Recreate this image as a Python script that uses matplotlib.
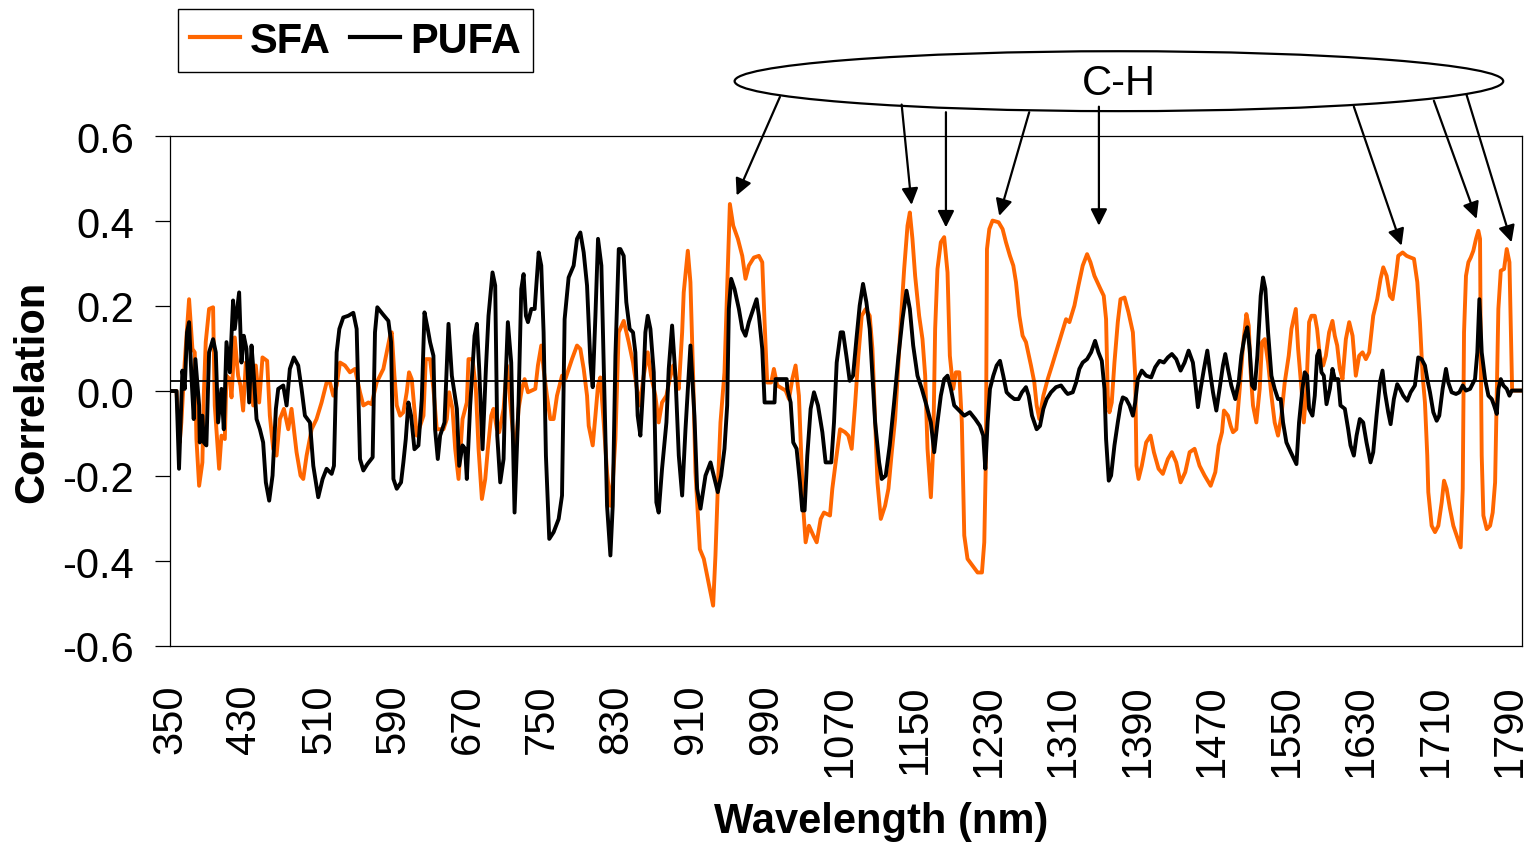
import numpy as np
import matplotlib
matplotlib.use("Agg")
import matplotlib.pyplot as plt
from matplotlib.patches import Ellipse
from matplotlib.ticker import FormatStrFormatter

plt.rcParams['font.family'] = ['Liberation Sans', 'DejaVu Sans']
plt.rcParams['axes.unicode_minus'] = False

# SFA correlation (orange)
sfa_nm = [350, 357, 360.4, 362.2, 365.8, 370.5, 374.1, 376.6, 378.4, 381.3, 384.8, 386.3, 388.4, 392.0, 396.3,
          398.1, 399.9, 402.8, 405.3, 408.9, 410.7, 414.3, 416.1, 419.6, 423.2, 425.7, 428.6, 431.5, 436.5, 439.4,
          442.2, 445.8, 449.4, 454.4, 457.3, 460.9, 464.5, 468.1, 472.4, 477.1, 480.6, 486.0, 490.3, 493.2, 496.8,
          502.2, 507.5, 512.9, 518.3, 521.9, 525.5, 529.1, 532.7, 538.0, 543.4, 548.8, 554.2, 557.8, 563.2, 566.7,
          572.1, 579.3, 586.5, 588.3, 591.2, 593.7, 597.3, 600.8, 604.4, 606.9, 609.8, 612.7, 615.2, 618.8, 622.4,
          624.9, 629.5, 633.1, 636.7, 643.9, 647.5, 650.0, 653.6, 656.5, 660.1, 664.4, 669.0, 670.8, 675.1, 678.7,
          681.6, 685.2, 688.8, 691.6, 695.2, 697.7, 701.3, 703.8, 708.5, 712.1, 715.7, 721.0, 724.6, 728.2, 731.1,
          734.7, 742.6, 745.4, 749.0, 751.5, 755.1, 758.7, 762.3, 765.9, 771.3, 774.9, 778.5, 782.0, 787.4, 791.0,
          794.6, 798.2, 800.0, 804.3, 807.2, 810.0, 812.5, 816.1, 819.7, 823.3, 825.8, 828.7, 832.2, 837.6, 843.0,
          847.6, 851.2, 854.8, 859.1, 863.4, 867.0, 871.6, 875.2, 878.8, 883.5, 887.1, 890.7, 894.3, 896.8, 900.4,
          902.1, 906.5, 909.3, 912.2, 914.7, 919.4, 923.7, 927.3, 930.9, 933.7, 936.2, 938.7, 941.6, 945.9, 948.8,
          951.7, 955.3, 960.3, 965.0, 968.5, 972.1, 977.5, 982.9, 986.5, 989.0, 991.8, 996.1, 999.0, 1002.6, 1011.6,
          1015.2, 1018.8, 1022.3, 1025.9, 1028.4, 1030.6, 1033.1, 1036.7, 1041.4, 1045.0, 1049.3, 1052.8, 1059.3,
          1061.8, 1065.4, 1070.1, 1075.5, 1079.0, 1082.6, 1086.2, 1089.8, 1093.4, 1097.7, 1102.0, 1104.9, 1107.8,
          1110.3, 1113.9, 1118.5, 1122.1, 1125.7, 1129.3, 1132.9, 1135.4, 1139.0, 1142.6, 1145.1, 1147.9, 1150.8,
          1155.1, 1158.7, 1161.6, 1164.1, 1167.7, 1170.2, 1172.3, 1174.8, 1178.4, 1182.0, 1185.6, 1188.1, 1191.7,
          1194.6, 1198.2, 1201.0, 1203.6, 1207.1, 1212.5, 1217.9, 1222.6, 1225.1, 1226.9, 1228.0, 1230.5, 1234.0,
          1240.5, 1244.8, 1248.4, 1252.7, 1256.3, 1259.2, 1262.8, 1266.3, 1269.9, 1275.3, 1278.9, 1281.4, 1284.3,
          1288.6, 1293.3, 1297.9, 1302.2, 1307.6, 1313.0, 1316.6, 1322.0, 1326.3, 1330.9, 1335.6, 1339.2, 1343.5,
          1350.0, 1353.5, 1356.0, 1357.8, 1359.6, 1362.1, 1365.0, 1368.6, 1371.5, 1375.8, 1380.1, 1384.8, 1387.3,
          1388.7, 1390.9, 1394.4, 1399.1, 1403.8, 1407.4, 1412.4, 1417.0, 1422.4, 1426.7, 1431.4, 1436.1, 1441.1,
          1445.8, 1451.1, 1456.5, 1461.9, 1468.4, 1473.4, 1477.0, 1480.6, 1482.7, 1487.0, 1489.9, 1492.4, 1496.0,
          1499.6, 1503.2, 1506.8, 1509.3, 1511.4, 1513.9, 1517.5, 1521.1, 1523.6, 1526.5, 1530.1, 1533.7, 1537.2,
          1540.8, 1544.4, 1548.0, 1552.3, 1555.2, 1559.9, 1562.4, 1566.0, 1568.5, 1571.3, 1574.2, 1576.7, 1580.3,
          1582.8, 1585.7, 1589.3, 1592.2, 1595.7, 1599.3, 1601.8, 1604.4, 1607.2, 1610.1, 1613.7, 1617.3, 1620.9,
          1624.4, 1628.0, 1631.6, 1635.2, 1638.8, 1643.1, 1647.4, 1651.0, 1653.9, 1657.5, 1661.0, 1663.9, 1667.5,
          1670.0, 1674.7, 1679.0, 1683.3, 1686.9, 1690.5, 1693.3, 1696.2, 1698.7, 1701.2, 1702.3, 1705.9, 1709.5,
          1713.1, 1716.7, 1719.2, 1722.0, 1725.6, 1729.2, 1732.8, 1737.1, 1739.3, 1740.7, 1742.8, 1745.4, 1747.9,
          1750.7, 1753.6, 1756.1, 1757.9, 1758.6, 1759.7, 1761.5, 1765.1, 1768.7, 1771.5, 1774.1, 1775.9, 1777.6,
          1780.2, 1783.7, 1786.6, 1789.5, 1790.9, 1792.4, 1803]
sfa_r = [0.0, 0.0, -0.121, -0.074, 0.067, 0.216, 0.099, 0.091, -0.113, -0.223, -0.168, -0.011, 0.115, 0.193, 0.197,
         -0.034, -0.09, -0.183, -0.105, -0.113, 0.036, 0.028, -0.015, 0.126, 0.036, 0.013, -0.046, 0.067, 0.036, -0.034,
         0.060, -0.027, 0.079, 0.071, -0.058, -0.136, -0.152, -0.066, -0.042, -0.09, -0.042, -0.144, -0.199, -0.207, -0.152,
         -0.09, -0.066, -0.027, 0.020, 0.020, -0.011, 0.013, 0.067, 0.060, 0.044, 0.052, -0.003, -0.034, -0.027, -0.031,
         0.020, 0.052, 0.130, 0.138, 0.036, -0.034, -0.058, -0.050, -0.003, 0.044, 0.028, -0.042, -0.105, -0.082, -0.058,
         0.075, 0.075, 0.005, -0.09, -0.09, -0.066, -0.003, -0.042, -0.136, -0.207, -0.066, -0.027, 0.075, 0.075, 0.005,
         -0.136, -0.254, -0.207, -0.136, -0.058, -0.042, -0.09, -0.097, -0.042, 0.060, -0.027, -0.16, -0.042, 0.005, 0.028,
         -0.003, 0.005, 0.060, 0.107, 0.052, -0.011, -0.066, -0.066, -0.011, 0.036, 0.028, 0.052, 0.075, 0.107, 0.099,
         0.052, -0.011, -0.082, -0.128, -0.058, 0.013, 0.032, -0.074, -0.191, -0.27, -0.215, -0.113, 0.138, 0.165, 0.115,
         0.067, 0.013, -0.034, 0.036, 0.091, 0.036, -0.011, -0.074, -0.027, -0.011, 0.028, 0.060, 0.020, 0.005, 0.138,
         0.232, 0.330, 0.256, 0.036, -0.191, -0.372, -0.395, -0.435, -0.474, -0.505, -0.387, -0.23, -0.074, 0.044, 0.240,
         0.440, 0.389, 0.358, 0.318, 0.264, 0.295, 0.314, 0.318, 0.303, 0.162, 0.020, 0.020, 0.052, 0.013, 0.001,
         -0.019, 0.028, 0.060, -0.011, -0.152, -0.277, -0.356, -0.317, -0.340, -0.356, -0.301, -0.286, -0.293,
         -0.23, -0.168, -0.09, -0.097, -0.105, -0.136, -0.034, 0.083, 0.177, 0.193, 0.177, 0.099, -0.066,
         -0.215, -0.301, -0.270, -0.23, -0.144, -0.066, 0.067, 0.162, 0.287, 0.389, 0.420, 0.358, 0.271,
         0.177, 0.122, 0.036, -0.136, -0.25, -0.136, 0.146, 0.287, 0.350, 0.362, 0.279, 0.083, 0.005,
         0.044, 0.044, -0.074, -0.340, -0.395, -0.411, -0.427, -0.427, -0.356, -0.152, 0.334, 0.381, 0.401,
         0.397, 0.381, 0.350, 0.318, 0.295, 0.256, 0.177, 0.130, 0.115, 0.060, 0.020, -0.034, -0.066,
         -0.011, 0.028, 0.060, 0.091, 0.130, 0.169, 0.162, 0.201, 0.248, 0.295, 0.322, 0.303, 0.271,
         0.240, 0.224, 0.169, -0.011, -0.050, -0.027, 0.067, 0.162, 0.216, 0.220, 0.185, 0.138, 0.036,
         -0.176, -0.207, -0.176, -0.121, -0.105, -0.144, -0.183, -0.195, -0.16, -0.144, -0.168, -0.215, -0.191,
         -0.144, -0.136, -0.176, -0.199, -0.223, -0.191, -0.128, -0.097, -0.046, -0.058, -0.082, -0.097, -0.09,
         0.005, 0.107, 0.181, 0.154, 0.044, -0.034, -0.074, 0.005, 0.115, 0.122, 0.067, -0.011, -0.074,
         -0.105, -0.058, 0.020, 0.083, 0.146, 0.193, 0.099, 0.005, -0.074, 0.005, 0.162, 0.177, 0.177,
         0.146, 0.083, 0.060, 0.083, 0.138, 0.165, 0.130, 0.107, 0.052, 0.028, 0.122, 0.162, 0.130,
         0.036, 0.083, 0.091, 0.075, 0.091, 0.177, 0.216, 0.264, 0.291, 0.271, 0.224, 0.216, 0.271,
         0.318, 0.326, 0.318, 0.314, 0.311, 0.256, 0.162, 0.036, -0.027, -0.152, -0.238, -0.317, -0.332,
         -0.317, -0.262, -0.211, -0.23, -0.277, -0.317, -0.340, -0.368, -0.23, 0.138, 0.271, 0.303, 0.314,
         0.330, 0.358, 0.377, 0.358, 0.122, -0.152, -0.293, -0.325, -0.317, -0.286, -0.215, -0.011, 0.193,
         0.283, 0.287, 0.334, 0.303, 0.162, 0.001, 0.001]

# PUFA correlation (black)
pufa_nm = [350, 357, 359.7, 363.3, 365.8, 368.3, 370.5, 373.0, 375.5, 377.3, 381.3, 382.0, 384.8, 386.3, 389.1,
           392.0, 396.3, 399.2, 401.7, 405.3, 407.8, 410.7, 414.3, 417.8, 419.6, 422.2, 424.3, 426.8, 429.3, 432.2,
           435.1, 437.6, 440.1, 443.0, 446.6, 450.1, 453.0, 456.6, 460.2, 463.8, 466.3, 471.7, 475.3, 478.8, 483.1,
           487.8, 491.4, 495.0, 500.4, 504.0, 509.3, 514.0, 518.3, 523.7, 526.2, 529.1, 532.0, 536.2, 541.6, 547.0,
           550.6, 554.2, 557.8, 562.1, 567.8, 570.3, 572.8, 578.6, 584.7, 587.6, 590.1, 593.7, 598.3, 600.8, 603.4,
           606.2, 609.1, 612.7, 617.0, 620.6, 623.5, 627.0, 629.5, 633.1, 634.9, 637.8, 640.3, 645.0, 649.3, 652.9,
           658.3, 660.8, 664.4, 667.2, 669.0, 672.6, 677.3, 679.8, 682.3, 685.9, 689.5, 692.3, 696.6, 699.5, 701.7,
           704.9, 708.5, 710.3, 713.1, 716.7, 720.3, 724.6, 727.5, 730.0, 732.5, 734.7, 738.3, 741.9, 746.2, 749.0,
           751.5, 754.0, 757.6, 762.3, 767.7, 771.3, 774.1, 778.4, 783.8, 787.4, 791.0, 794.6, 798.2, 801.8, 804.3,
           807.2, 810.0, 813.6, 817.2, 819.7, 823.3, 825.8, 828.7, 832.3, 834.0, 837.6, 840.4, 844.0, 847.6, 850.1,
           852.6, 855.5, 858.4, 860.9, 863.4, 866.3, 869.9, 872.7, 875.2, 878.8, 883.5, 886.0, 889.6, 893.2, 896.8,
           900.4, 904.0, 909.3, 913.6, 916.5, 920.1, 925.5, 930.9, 935.2, 938.7, 942.3, 945.9, 948.8, 950.6, 953.1,
           956.7, 961.4, 965.0, 968.5, 972.1, 976.8, 980.4, 982.9, 986.5, 989.0, 999.7, 1000.8, 1012.7, 1013.4,
           1017.0, 1019.8, 1023.4, 1027.0, 1029.5, 1032.0, 1034.9, 1038.5, 1042.1, 1046.4, 1051.1, 1054.6, 1060.7,
           1063.6, 1066.5, 1070.8, 1073.3, 1076.9, 1080.5, 1084.1, 1087.7, 1091.2, 1094.8, 1098.4, 1102.0, 1104.9,
           1107.8, 1112.1, 1114.9, 1119.2, 1123.5, 1128.2, 1132.9, 1137.2, 1141.5, 1145.1, 1148.7, 1153.3, 1158.0,
           1163.0, 1167.7, 1171.3, 1174.8, 1178.4, 1182.0, 1185.6, 1189.2, 1192.8, 1198.2, 1203.6, 1209.6, 1215.4,
           1220.4, 1224.0, 1226.2, 1228.7, 1231.2, 1234.8, 1238.4, 1242.0, 1245.5, 1249.1, 1252.7, 1257.4, 1262.0,
           1265.6, 1269.9, 1272.8, 1276.4, 1281.4, 1285.0, 1288.6, 1292.2, 1296.8, 1302.2, 1307.6, 1313.0, 1314.8,
           1320.2, 1323.8, 1327.3, 1330.9, 1335.6, 1339.9, 1344.2, 1347.8, 1351.4, 1354.3, 1356.0, 1358.9, 1361.4,
           1365.0, 1368.6, 1371.5, 1374.0, 1377.6, 1381.2, 1384.8, 1387.3, 1390.1, 1394.4, 1399.1, 1404.5, 1408.8,
           1413.5, 1418.1, 1422.4, 1426.7, 1431.4, 1436.1, 1440.4, 1444.7, 1449.3, 1451.9, 1454.7, 1457.6, 1461.2,
           1464.8, 1467.3, 1470.9, 1474.5, 1478.0, 1481.6, 1484.1, 1487.0, 1490.6, 1494.9, 1498.5, 1501.4, 1505.0,
           1507.8, 1510.3, 1512.9, 1515.7, 1518.6, 1522.2, 1524.7, 1527.2, 1530.1, 1533.7, 1537.2, 1540.8, 1543.7,
           1546.2, 1549.8, 1554.5, 1558.8, 1560.6, 1563.4, 1567.0, 1569.5, 1572.1, 1574.2, 1577.8, 1580.3, 1582.8,
           1585.0, 1587.5, 1590.0, 1592.9, 1596.5, 1599.3, 1601.8, 1605.4, 1607.9, 1612.6, 1616.2, 1618.7, 1622.3,
           1625.2, 1628.7, 1632.3, 1635.9, 1640.2, 1643.1, 1646.7, 1650.3, 1653.1, 1655.7, 1659.2, 1661.8, 1665.3,
           1668.9, 1671.8, 1675.4, 1679.7, 1683.3, 1687.9, 1691.5, 1695.1, 1698.7, 1701.2, 1704.1, 1707.7, 1711.3,
           1714.1, 1717.7, 1721.3, 1723.8, 1727.4, 1732.1, 1735.7, 1739.3, 1742.8, 1747.2, 1752.5, 1755.0, 1757.2,
           1759.7, 1763.3, 1766.9, 1770.5, 1773.0, 1775.9, 1777.7, 1780.2, 1783.0, 1786.6, 1789.5, 1792.0, 1803]
pufa_r = [0.0, 0.0, -0.183, 0.048, 0.005, 0.138, 0.162, 0.036, -0.066, 0.075, -0.034, -0.121, -0.058, -0.121, -0.128,
          0.091, 0.122, 0.091, -0.074, 0.005, -0.09, 0.115, 0.044, 0.213, 0.146, 0.193, 0.232, 0.067, 0.130, 0.099,
          -0.027, 0.107, 0.036, -0.066, -0.09, -0.121, -0.215, -0.258, -0.199, -0.042, 0.005, 0.013, -0.034, 0.052, 0.079,
          0.060, 0.005, -0.058, -0.074, -0.176, -0.25, -0.207, -0.183, -0.195, -0.176, 0.091, 0.146, 0.173, 0.177, 0.184,
          0.146, -0.16, -0.187, -0.172, -0.156, 0.138, 0.197, 0.181, 0.165, 0.115, -0.207, -0.23, -0.215, -0.168, -0.113,
          -0.027, -0.058, -0.137, -0.128, -0.019, 0.185, 0.146, 0.115, 0.083, -0.09, -0.16, -0.105, -0.074, 0.158, 0.036,
          -0.042, -0.176, -0.128, -0.136, -0.207, -0.034, 0.130, 0.158, 0.052, -0.137, 0.052, 0.177, 0.279, 0.248, -0.105,
          -0.215, -0.16, 0.005, 0.162, 0.067, -0.286, -0.027, 0.24, 0.275, 0.177, 0.162, 0.193, 0.193, 0.326, 0.295,
          0.138, -0.152, -0.348, -0.332, -0.301, -0.246, 0.169, 0.267, 0.295, 0.358, 0.373, 0.326, 0.248, 0.067, 0.009,
          0.177, 0.358, 0.295, -0.034, -0.27, -0.387, -0.27, 0.083, 0.334, 0.334, 0.318, 0.209, 0.146, 0.138, 0.091,
          -0.058, -0.105, 0.005, 0.138, 0.177, 0.146, 0.044, -0.262, -0.286, -0.183, -0.074, 0.052, 0.154, 0.036, -0.152,
          -0.246, -0.09, 0.107, -0.058, -0.23, -0.277, -0.199, -0.168, -0.207, -0.238, -0.199, -0.136, -0.034, 0.193, 0.264,
          0.240, 0.193, 0.146, 0.130, 0.162, 0.193, 0.216, 0.177, 0.099, -0.027, -0.027, 0.028, 0.028, 0.005,
          -0.027, -0.121, -0.136, -0.215, -0.281, -0.281, -0.152, -0.042, -0.003, -0.034, -0.097, -0.168, -0.168,
          -0.074, 0.067, 0.138, 0.138, 0.083, 0.024, 0.036, 0.122, 0.201, 0.252, 0.209, 0.146, 0.036,
          -0.074, -0.168, -0.207, -0.199, -0.128, -0.027, 0.083, 0.169, 0.236, 0.193, 0.107, 0.036, 0.005,
          -0.034, -0.074, -0.144, -0.074, -0.011, 0.028, 0.036, 0.005, -0.034, -0.046, -0.058, -0.050, -0.066,
          -0.082, -0.105, -0.183, -0.074, 0.005, 0.036, 0.060, 0.071, 0.036, -0.003, -0.011, -0.019, -0.019,
          -0.003, 0.009, -0.011, -0.058, -0.09, -0.082, -0.042, -0.019, -0.003, 0.009, 0.013, -0.003, -0.007,
          -0.003, 0.020, 0.052, 0.067, 0.075, 0.091, 0.118, 0.091, 0.071, 0.005, -0.113, -0.211, -0.199,
          -0.128, -0.074, -0.034, -0.015, -0.019, -0.034, -0.058, -0.027, 0.028, 0.048, 0.036, 0.032, 0.056,
          0.071, 0.067, 0.079, 0.087, 0.075, 0.048, 0.067, 0.095, 0.067, 0.020, -0.038, 0.005, 0.052,
          0.095, 0.052, -0.003, -0.046, 0.005, 0.060, 0.087, 0.052, 0.013, -0.019, 0.020, 0.083, 0.130,
          0.150, 0.099, 0.013, 0.005, 0.083, 0.224, 0.267, 0.240, 0.138, 0.036, 0.005, -0.019, -0.019,
          -0.074, -0.121, -0.144, -0.164, -0.172, -0.074, 0.005, 0.044, 0.036, -0.042, -0.058, -0.011, 0.083,
          0.095, 0.044, 0.036, -0.031, 0.005, 0.052, 0.028, 0.028, -0.034, -0.042, -0.09, -0.128, -0.152,
          -0.105, -0.066, -0.074, -0.121, -0.168, -0.144, -0.058, 0.020, 0.048, -0.003, -0.050, -0.078, -0.019,
          0.016, 0.005, -0.011, -0.023, -0.003, 0.013, 0.079, 0.075, 0.060, 0.028, -0.003, -0.050, -0.070,
          -0.058, 0.005, 0.052, 0.020, -0.003, -0.007, -0.003, 0.013, 0.001, 0.005, 0.028, 0.091, 0.216,
          0.091, 0.028, -0.011, -0.019, -0.034, -0.054, 0.005, 0.028, 0.013, 0.005, -0.011, 0.001, 0.001]

ref_line = 0.023
xtick_vals = list(range(350, 1791, 80))
ytick_vals = [-0.6, -0.4, -0.2, 0.0, 0.2, 0.4, 0.6]

# C-H bands the arrows point at: (tip nm, tip r) and (start nm, start r)
arrow_tips = [(959.0, 0.460), (1147.0, 0.438), (1183.9, 0.385), (1241.2, 0.412),
              (1348.3, 0.389), (1673.6, 0.342), (1754.2, 0.405), (1791.8, 0.350)]
arrow_starts = [(1005.5, 0.692), (1136.3, 0.674), (1183.9, 0.656), (1273.4, 0.656),
                (1348.3, 0.669), (1622.3, 0.669), (1708.3, 0.683), (1743.4, 0.697)]

W, H = 1532, 845
fig = plt.figure(figsize=(W / 100, H / 100), dpi=100)
ax = fig.add_axes([170 / W, 1 - 647 / H, 1352 / W, 510 / H])

l1, = ax.plot(sfa_nm, sfa_r, color='#FF6600', lw=2.8, label='SFA')
l2, = ax.plot(pufa_nm, pufa_r, color='black', lw=2.8, label='PUFA')
ax.axhline(ref_line, color='black', lw=1.3)

ax.set_xlim(350, 1803)
ax.set_ylim(-0.6, 0.6)
ax.set_xticks(xtick_vals)
ax.set_yticks(ytick_vals)
ax.yaxis.set_major_formatter(FormatStrFormatter('%.1f'))
ax.tick_params(axis='x', length=0, pad=27, labelsize=30, labelrotation=90)
ax.tick_params(axis='y', length=11, width=0.9, pad=15, labelsize=30)
for s in ax.spines.values():
    s.set_linewidth(0.9)

ax.set_ylabel('Correlation', fontsize=30, fontweight='bold', va='center')
ax.yaxis.set_label_coords(-138 / 1352, 0.5)
ax.set_xlabel('Wavelength (nm)', fontsize=30, fontweight='bold', va='center')
ax.xaxis.set_label_coords((881 - 170) / 1352, -(822 - 647) / 510)

# ellipse with the C-H label, drawn above the plot area
ell = Ellipse((1369.8, 0.729), 826, 0.141, facecolor='white', edgecolor='black',
              lw=1.6, clip_on=False, zorder=5)
ax.add_patch(ell)
ax.text(1369.8, 0.725, 'C-H', fontsize=30, ha='center', va='center', zorder=6)
for tip, start in zip(arrow_tips, arrow_starts):
    ax.annotate('', xy=tip, xytext=start, annotation_clip=False, zorder=6,
                arrowprops=dict(arrowstyle='-|>,head_length=0.4,head_width=0.2',
                                color='black', lw=1.6, mutation_scale=25,
                                shrinkA=0, shrinkB=0))

leg = fig.legend(handles=[l1, l2], loc='upper left', bbox_to_anchor=(178 / W, 1 - 10 / H),
                 ncol=2, prop={'size': 30, 'weight': 'bold'}, frameon=True, fancybox=False,
                 edgecolor='black', framealpha=1, borderaxespad=0, borderpad=0.28,
                 handlelength=1.2, handletextpad=0.25, columnspacing=0.45)
leg.get_frame().set_linewidth(1.0)
for h in leg.get_lines():
    h.set_linewidth(3)

fig.savefig('out.png', dpi=100)
